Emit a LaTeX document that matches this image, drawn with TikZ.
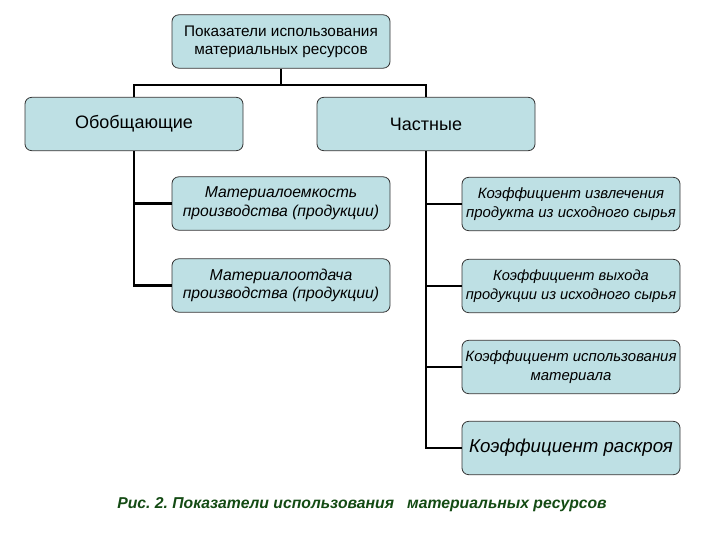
\documentclass[tikz,border=0pt]{standalone}
\usepackage{fontspec}
\setmainfont{Liberation Sans}
\usetikzlibrary{positioning}

\definecolor{boxfill}{RGB}{190,224,228}
\definecolor{capgreen}{RGB}{20,75,20}

\begin{document}
\frenchspacing
\begin{tikzpicture}[
			x=0.75pt,y=-0.75pt,
			box/.style={
				rectangle,
				rounded corners=5pt,
				draw=black!80,
				line width=0.6pt,
				fill=boxfill,
				minimum width=163.5pt,
				minimum height=40pt,
				inner xsep=0.5pt,
				align=center,
				font=\fontsize{11.5}{13.5}\selectfont
			},
			groupbox/.style={
				box,
				font=\fontsize{13.5}{16}\selectfont
			},
			itembox/.style={
				box,
				font=\fontsize{11.8}{14}\selectfont\itshape
			},
			link/.style={line width=1.6pt,draw=black}
			]
			\useasboundingbox (0,0) rectangle (720,540);

			\node[box] (top) at (281,41.5) {Показатели использования\\материальных ресурсов};
			\node[groupbox] (gen) at (134,124) {Обобщающие};
			\node[groupbox] (part) at (426,124) {Частные};

			\node[itembox] (me) at (281,203.5) {Материалоемкость\\производства (продукции)};
			\node[itembox] (mo) at (281,285.5) {Материалоотдача\\производства (продукции)};

			\node[itembox, font=\fontsize{11.2}{14}\selectfont\itshape] (kiz) at (571,204) {Коэффициент извлечения\\продукта из исходного сырья};
			\node[itembox, font=\fontsize{11}{14}\selectfont\itshape] (kvy) at (571,286) {Коэффициент выхода\\продукции из исходного сырья};
			\node[itembox, font=\fontsize{11.2}{14}\selectfont\itshape] (kis) at (571,367) {Коэффициент использования\\материала};
			\node[itembox, font=\fontsize{14}{16}\selectfont\itshape] (kra) at (571,448) {Коэффициент раскроя};

			\node[font=\fontsize{11.8}{14}\selectfont\bfseries\itshape, text=capgreen] (caption) at (362,505)
				{Рис. 2. Показатели использования\ \ \ материальных ресурсов};

			\coordinate (bus) at (281,85);
			\draw[link] (top) -- (bus);
			\draw[link] (gen.north) |- (bus) -| (part.north);

			\draw[link] (gen.south) |- (me.west);
			\draw[link] (gen.south) |- (mo.west);

			\draw[link] (part.south) |- (kiz.west);
			\draw[link] (part.south) |- (kvy.west);
			\draw[link] (part.south) |- (kis.west);
			\draw[link] (part.south) |- (kra.west);
		\end{tikzpicture}
\end{document}
